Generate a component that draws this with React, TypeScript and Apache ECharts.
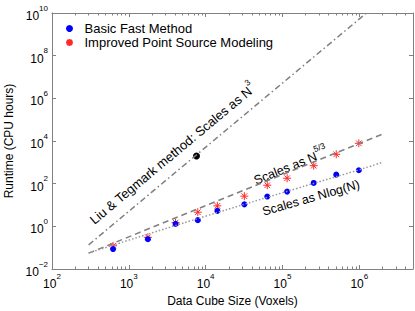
import React, { useEffect, useRef } from 'react';
import * as echarts from 'echarts';

const FONT = 'Arial, Helvetica, sans-serif';

// Data cube sizes (voxels)
const cubeSizes = [624, 1770, 4060, 7900, 14200, 31900, 63400, 115000, 255000, 501000, 986000];
// Runtime (CPU hours)
const basicRuntime = [0.086, 0.25, 1.31, 1.95, 5.3, 10.7, 24.8, 42.5, 108, 265, 426];
const improvedRuntime = [0.122, 0.306, 1.49, 4.6, 9.1, 25.9, 84.5, 180, 698, 2380, 7800];
const liuSize = [7600];
const liuRuntime = [1980];

// Reference scaling lines
const n3LineX = [300, 2000000];
const n3LineY = [0.136, 4.2e10];
const n53LineX = [300, 2000000];
const n53LineY = [0.0557, 21000];
const nlogLineX = [300, 1000, 10000, 100000, 1000000, 2000000];
const nlogLineY = [0.056, 0.225, 3.0, 37.5, 450, 1000];

// Ticks
const xMajorTicks = [100, 1000, 10000, 100000, 1000000];
const xMinorTicks = [
  200, 300, 400, 500, 600, 700, 800, 900,
  2000, 3000, 4000, 5000, 6000, 7000, 8000, 9000,
  20000, 30000, 40000, 50000, 60000, 70000, 80000, 90000,
  200000, 300000, 400000, 500000, 600000, 700000, 800000, 900000,
  2000000, 3000000, 4000000,
];
const yMajorTicks = [0.01, 1, 100, 10000, 1000000, 100000000, 10000000000];

const STAR = 'path://M0,-10L0,10M-10,0L10,0M-7.07,-7.07L7.07,7.07M-7.07,7.07L7.07,-7.07';
const AXIS_COLOR = '#808080';
const LINE_COLOR = '#808080';

const powLabel = (v: number) => {
  const e = Math.round(Math.log10(v));
  const es = e < 0 ? '\u2212' + -e : String(e);
  return `{b|10}{s|${es}}`;
};

const labelRich = {
  b: { fontSize: 12, lineHeight: 18, verticalAlign: 'bottom', color: '#000', fontFamily: FONT },
  s: { fontSize: 8, lineHeight: 9, verticalAlign: 'top', color: '#000', fontFamily: FONT },
};

const makeRich = (size: number) => ({
  t: { fontSize: size, lineHeight: 18, verticalAlign: 'bottom', fill: '#000', fontFamily: FONT },
  s: { fontSize: 8.5, lineHeight: 9, verticalAlign: 'top', fill: '#000', fontFamily: FONT },
});

const deg = (d: number) => (d * Math.PI) / 180;

export default function App() {
  const ref = useRef<HTMLDivElement>(null);

  useEffect(() => {
    document.body.style.margin = '0';
    if (!ref.current) return;
    const chart = echarts.init(ref.current, undefined, { renderer: 'svg' });

    const xBase = {
      type: 'log' as const,
      logBase: 10,
      min: 100,
      max: 5000000,
      gridIndex: 0,
      splitLine: { show: false },
    };
    const yBase = {
      type: 'log' as const,
      logBase: 10,
      min: 0.01,
      max: 1e10,
      gridIndex: 0,
      splitLine: { show: false },
    };

    chart.setOption({
      animation: false,
      textStyle: { fontFamily: FONT, fontSize: 12 },
      grid: { left: 52, right: 2, top: 13, bottom: 42, containLabel: false, outerBoundsMode: 'none' },
      legend: {
        orient: 'vertical',
        left: 60,
        top: 17,
        itemWidth: 20,
        itemHeight: 7,
        itemGap: 1,
        textStyle: { fontSize: 13, color: '#000', fontFamily: FONT },
        data: ['Basic Fast Method', 'Improved Point Source Modeling'],
      },
      xAxis: [
        {
          ...xBase,
          position: 'bottom',
          name: 'Data Cube Size (Voxels)',
          nameLocation: 'middle',
          nameGap: 18,
          nameTextStyle: { fontSize: 12, color: '#000', fontFamily: FONT },
          axisLine: { show: true, lineStyle: { color: AXIS_COLOR, width: 1 } },
          axisTick: { show: true, inside: true, length: 4, customValues: xMajorTicks, lineStyle: { color: AXIS_COLOR } },
          axisLabel: { show: true, customValues: xMajorTicks, formatter: powLabel, rich: labelRich, margin: 3 },
        },
        {
          ...xBase,
          position: 'bottom',
          axisLine: { show: false },
          axisTick: { show: true, inside: true, length: 2.5, customValues: xMinorTicks, lineStyle: { color: AXIS_COLOR } },
          axisLabel: { show: false },
        },
        {
          ...xBase,
          position: 'top',
          axisLine: { show: true, lineStyle: { color: AXIS_COLOR, width: 1 } },
          axisTick: { show: true, inside: true, length: 4, customValues: xMajorTicks, lineStyle: { color: AXIS_COLOR } },
          axisLabel: { show: false },
        },
        {
          ...xBase,
          position: 'top',
          axisLine: { show: false },
          axisTick: { show: true, inside: true, length: 2.5, customValues: xMinorTicks, lineStyle: { color: AXIS_COLOR } },
          axisLabel: { show: false },
        },
      ],
      yAxis: [
        {
          ...yBase,
          position: 'left',
          name: 'Runtime (CPU hours)',
          nameLocation: 'middle',
          nameGap: 30,
          nameTextStyle: { fontSize: 12, color: '#000', fontFamily: FONT },
          axisLine: { show: true, lineStyle: { color: AXIS_COLOR, width: 1 } },
          axisTick: { show: true, inside: true, length: 4, customValues: yMajorTicks, lineStyle: { color: AXIS_COLOR } },
          axisLabel: { show: true, customValues: yMajorTicks, formatter: powLabel, rich: labelRich, margin: 4 },
        },
        {
          ...yBase,
          position: 'right',
          axisLine: { show: true, lineStyle: { color: AXIS_COLOR, width: 1 } },
          axisTick: { show: true, inside: true, length: 4, customValues: yMajorTicks, lineStyle: { color: AXIS_COLOR } },
          axisLabel: { show: false },
        },
      ],
      series: [
        {
          name: 'N3 line',
          type: 'line',
          xAxisIndex: 0,
          yAxisIndex: 0,
          data: n3LineX.map((x, i) => [x, n3LineY[i]]),
          showSymbol: false,
          symbol: 'none',
          lineStyle: { color: LINE_COLOR, width: 1.5, type: [6, 3, 1.5, 3] },
          silent: true,
        },
        {
          name: 'N53 line',
          type: 'line',
          xAxisIndex: 0,
          yAxisIndex: 0,
          data: n53LineX.map((x, i) => [x, n53LineY[i]]),
          showSymbol: false,
          symbol: 'none',
          lineStyle: { color: LINE_COLOR, width: 1.5, type: [6, 4] },
          silent: true,
        },
        {
          name: 'NlogN line',
          type: 'line',
          xAxisIndex: 0,
          yAxisIndex: 0,
          data: nlogLineX.map((x, i) => [x, nlogLineY[i]]),
          showSymbol: false,
          symbol: 'none',
          smooth: true,
          lineStyle: { color: '#999999', width: 1.5, type: [1.5, 2] },
          silent: true,
        },
        {
          name: 'Improved Point Source Modeling',
          type: 'scatter',
          xAxisIndex: 0,
          yAxisIndex: 0,
          data: cubeSizes.map((x, i) => [x, improvedRuntime[i]]),
          symbol: STAR,
          symbolSize: 8,
          itemStyle: { color: 'transparent', borderColor: '#ff2a2a', borderWidth: 1, opacity: 1 },
        },
        {
          name: 'Basic Fast Method',
          type: 'scatter',
          xAxisIndex: 0,
          yAxisIndex: 0,
          data: cubeSizes.map((x, i) => [x, basicRuntime[i]]),
          symbol: 'circle',
          symbolSize: 6,
          itemStyle: { color: '#0000ff', opacity: 1 },
        },
        {
          name: 'Liu & Tegmark',
          type: 'scatter',
          xAxisIndex: 0,
          yAxisIndex: 0,
          data: liuSize.map((x, i) => [x, liuRuntime[i]]),
          symbol: 'circle',
          symbolSize: 7,
          itemStyle: { color: '#000000', opacity: 1 },
        },
      ],
      graphic: [
        {
          type: 'text',
          x: 171,
          y: 152,
          rotation: deg(39.8),
          silent: true,
          style: {
            text: '{t|Liu & Tegmark method: Scales as N}{s|3}',
            rich: makeRich(13),
            align: 'center',
            verticalAlign: 'middle',
          },
        },
        {
          type: 'text',
          x: 290,
          y: 164,
          rotation: deg(22.1),
          silent: true,
          style: {
            text: '{t|Scales as N}{s|5/3}',
            rich: makeRich(12.5),
            align: 'center',
            verticalAlign: 'middle',
          },
        },
        {
          type: 'text',
          x: 311,
          y: 198,
          rotation: deg(16),
          silent: true,
          style: {
            text: 'Scales as Nlog(N)',
            font: '12.5px Arial, Helvetica, sans-serif',
            fill: '#000',
            align: 'center',
            verticalAlign: 'middle',
          },
        },
      ],
    });

    return () => chart.dispose();
  }, []);

  return <div ref={ref} style={{ width: 415, height: 311 }} />;
}
